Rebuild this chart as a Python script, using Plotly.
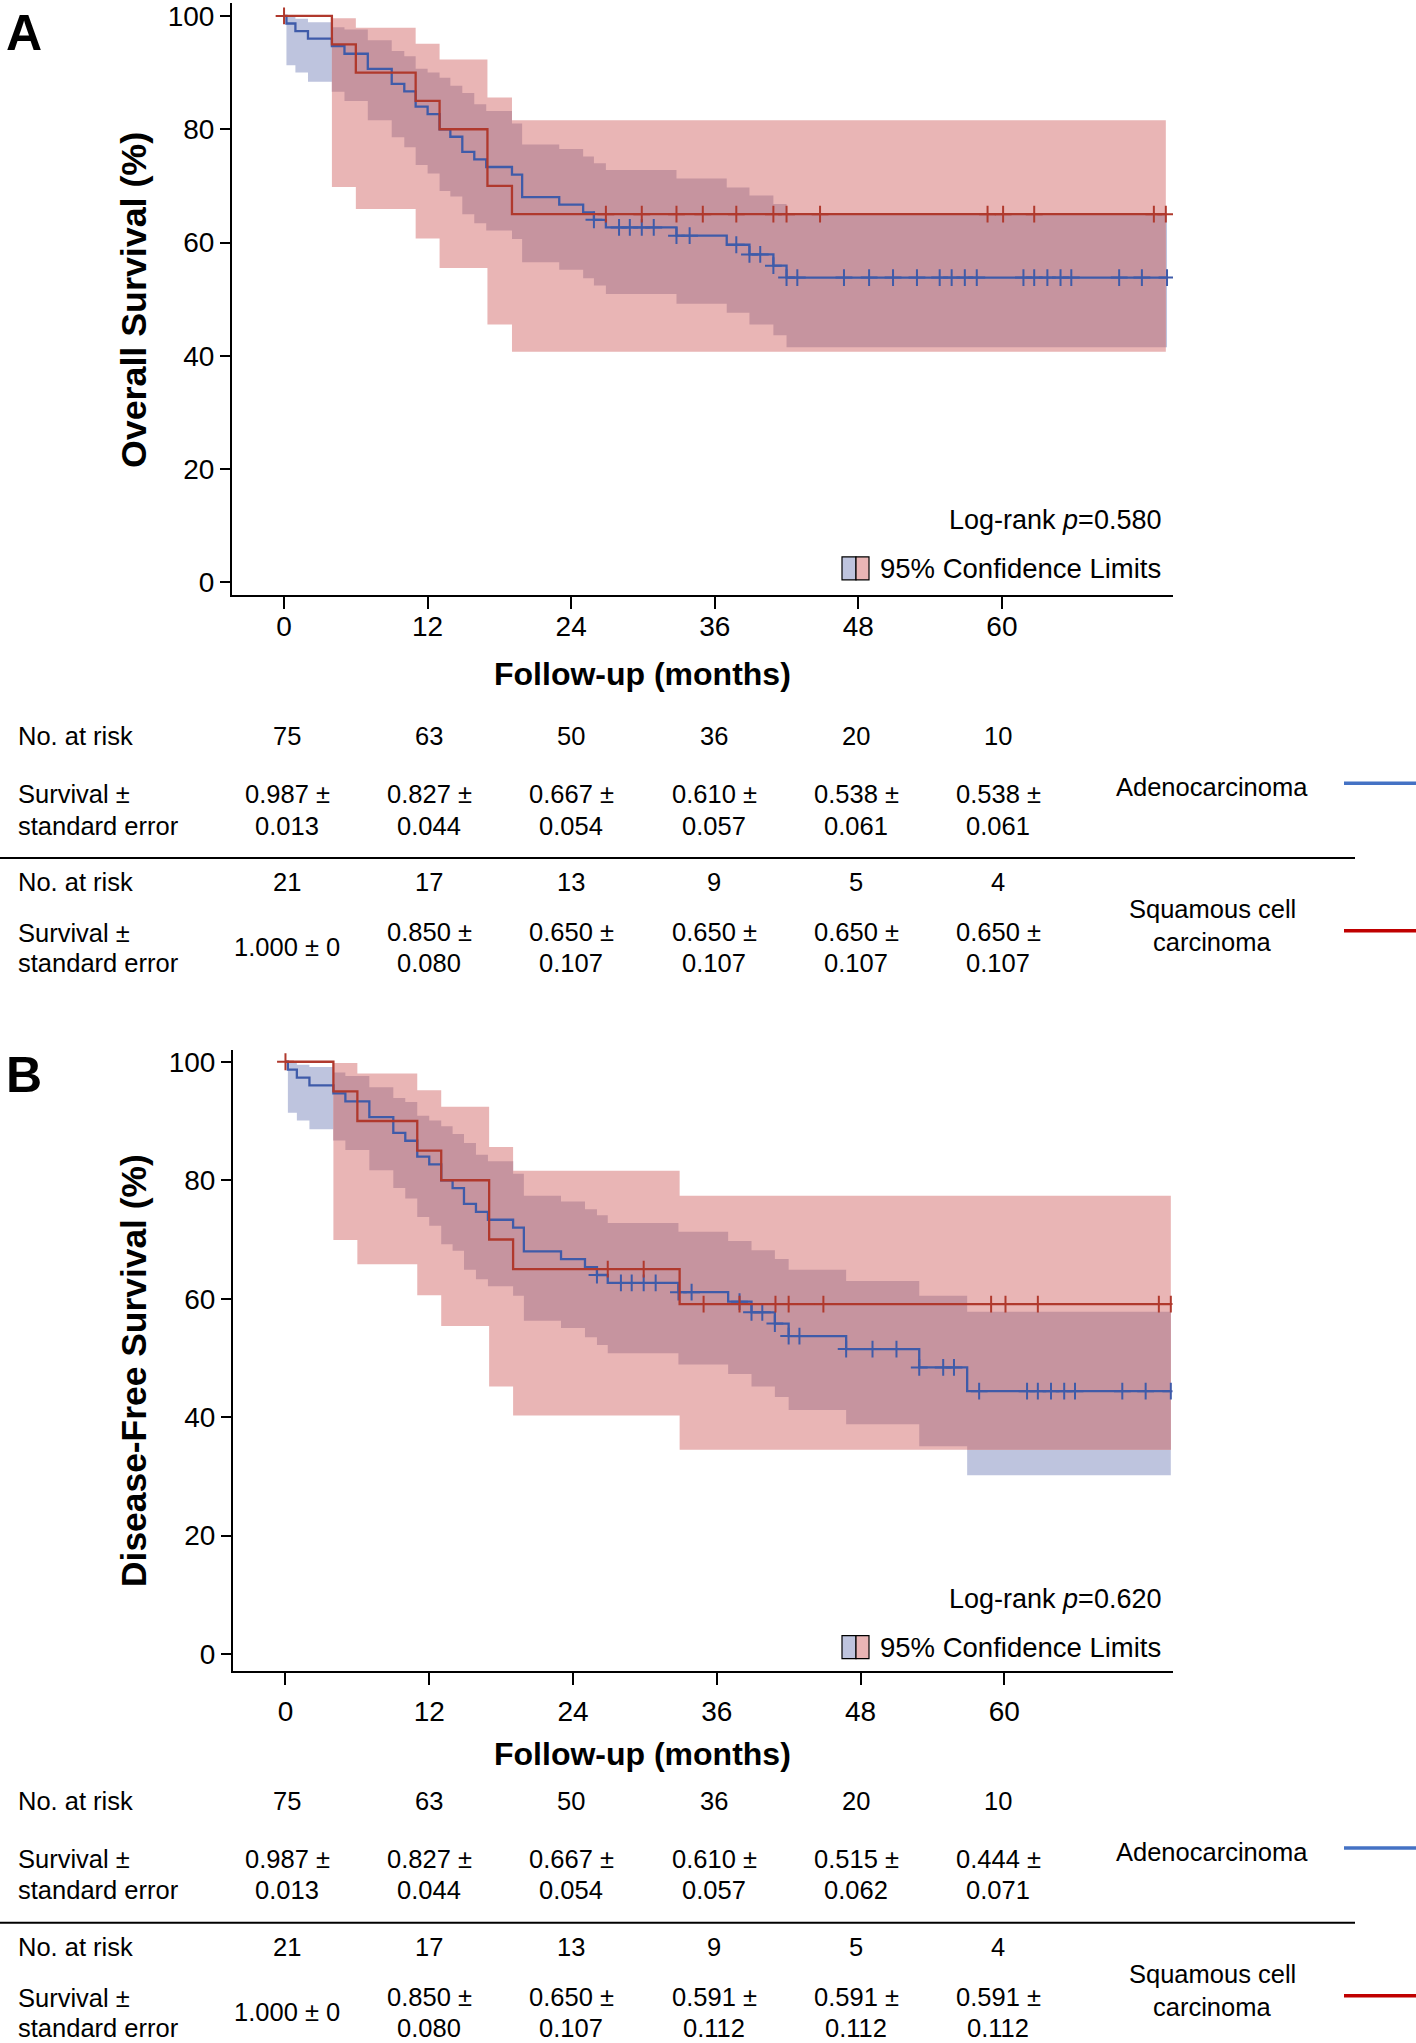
import plotly.graph_objects as go

W, H = 1416, 2043
FONT = "Liberation Sans, Arial, sans-serif"

# ---------------- DATA ----------------
# Panel A: Overall survival (months, %)
ado_os_t = [0, 0.2, 0.95, 2.0, 4.0, 5.05, 7.0, 9.0, 10.05, 11.0, 12.0, 13.0, 13.9, 14.9, 15.9,
            16.9, 19.05, 19.9, 23.0, 25.0, 25.9, 26.9, 32.8, 37.0, 38.9, 40.9, 42.0]
ado_os_s = [100, 98.67, 97.33, 96.0, 94.67, 93.33, 90.67, 88.0, 86.67, 84.0, 82.67, 80.0, 78.67,
            76.0, 74.67, 73.33, 72.0, 68.0, 66.67, 65.33, 64.0, 62.67, 61.2, 59.6, 57.9, 55.9, 53.8]
ado_os_lo = [100, 91.3, 90.0, 88.4, 86.6, 85.0, 81.6, 78.6, 76.8, 73.7, 72.2, 69.1, 68.1, 65.0,
             63.4, 62.1, 60.6, 56.5, 55.2, 53.7, 52.4, 50.9, 49.2, 47.6, 45.5, 43.6, 41.5]
ado_os_hi = [100, 99.9, 99.5, 98.9, 98.0, 97.6, 95.7, 93.8, 92.9, 90.7, 90.0, 89.1, 87.7, 86.4,
             84.4, 83.2, 81.0, 77.3, 76.5, 75.2, 74.0, 72.8, 71.3, 69.7, 68.3, 66.8, 65.2]
ado_os_end = 73.8
ado_os_cens = [25.9, 28.0, 28.9, 29.9, 30.9, 32.8, 33.9, 37.8, 38.9, 39.8, 40.9, 42.0, 42.9, 46.8,
               48.9, 50.9, 52.9, 54.8, 55.8, 56.9, 57.9, 61.8, 62.7, 63.8, 64.9, 65.8, 69.8, 71.7, 73.8]

sq_os_t = [0, 4.0, 6.0, 11.0, 13.0, 17.0, 19.05]
sq_os_s = [100, 95, 90, 85, 80, 70, 65]
sq_os_lo = [100, 69.8, 65.9, 60.7, 55.5, 45.5, 40.7]
sq_os_hi = [100, 99.6, 97.9, 95.1, 92.3, 85.6, 81.6]
sq_os_end = 73.7
sq_os_cens = [0, 26.9, 29.9, 32.8, 35.0, 37.8, 40.9, 42.0, 44.8, 58.8, 60.1, 62.7, 72.7, 73.7]

# Panel B: Disease-free survival
ado_dfs_t = [0, 0.2, 0.95, 2.0, 4.0, 5.0, 7.0, 9.0, 10.0, 11.0, 12.0, 13.0, 13.95, 14.9, 15.9,
             16.9, 19.0, 19.9, 23.0, 25.0, 26.0, 26.9, 32.8, 36.95, 38.9, 40.85, 42.0, 46.8, 52.9, 56.9]
ado_dfs_s = [100, 98.67, 97.33, 96.0, 94.67, 93.33, 90.67, 88.0, 86.67, 84.0, 82.67, 80.0, 78.67,
             76.0, 74.67, 73.33, 72.0, 68.0, 66.67, 65.33, 64.0, 62.67, 61.1, 59.5, 57.7, 55.8,
             53.7, 51.5, 48.4, 44.4]
ado_dfs_lo = [100, 91.4, 90.1, 88.6, 86.7, 85.1, 81.7, 78.7, 76.9, 73.8, 72.3, 69.2, 68.1, 64.9,
              63.3, 62.1, 60.5, 56.3, 55.05, 53.5, 52.2, 50.8, 48.9, 47.3, 45.2, 43.4, 41.2, 38.8,
              35.1, 30.2]
ado_dfs_hi = [100, 99.8, 99.5, 99.1, 98.2, 97.6, 95.7, 93.9, 93.2, 90.9, 90.1, 89.1, 87.8, 86.3,
              84.3, 83.2, 81.1, 77.4, 76.4, 75.1, 74.1, 72.8, 71.3, 69.75, 68.2, 66.7, 64.9, 63.0,
              60.5, 57.8]
ado_dfs_end = 73.9
ado_dfs_cens = [26.0, 28.0, 28.9, 29.9, 30.9, 32.8, 33.9, 37.9, 38.9, 39.8, 40.85, 42.0, 42.9, 46.8,
                49.0, 51.0, 52.9, 54.9, 55.8, 57.9, 61.9, 62.8, 63.9, 65.0, 65.9, 69.85, 71.8, 73.9]

sq_dfs_t = [0, 4.0, 6.0, 11.0, 13.0, 17.0, 19.0, 32.9]
sq_dfs_s = [100, 95, 90, 85, 80, 70, 65, 59.1]
sq_dfs_lo = [100, 69.9, 65.8, 60.6, 55.4, 45.2, 40.3, 34.5]
sq_dfs_hi = [100, 99.8, 98.0, 95.2, 92.4, 85.6, 81.6, 77.4]
sq_dfs_end = 73.9
sq_dfs_cens = [0, 26.9, 29.9, 34.9, 37.9, 40.9, 42.0, 44.9, 58.9, 60.1, 62.8, 72.9, 73.9]

x_ticks = [0, 12, 24, 36, 48, 60]
y_ticks = [0, 20, 40, 60, 80, 100]

# Risk tables
ado_risk_os = ["75", "63", "50", "36", "20", "10"]
ado_surv_os = ["0.987", "0.827", "0.667", "0.610", "0.538", "0.538"]
ado_se_os = ["0.013", "0.044", "0.054", "0.057", "0.061", "0.061"]
sq_risk_os = ["21", "17", "13", "9", "5", "4"]
sq_surv_os = ["1.000", "0.850", "0.650", "0.650", "0.650", "0.650"]
sq_se_os = ["0", "0.080", "0.107", "0.107", "0.107", "0.107"]

ado_risk_dfs = ["75", "63", "50", "36", "20", "10"]
ado_surv_dfs = ["0.987", "0.827", "0.667", "0.610", "0.515", "0.444"]
ado_se_dfs = ["0.013", "0.044", "0.054", "0.057", "0.062", "0.071"]
sq_risk_dfs = ["21", "17", "13", "9", "5", "4"]
sq_surv_dfs = ["1.000", "0.850", "0.650", "0.591", "0.591", "0.591"]
sq_se_dfs = ["0", "0.080", "0.107", "0.112", "0.112", "0.112"]

# ---------------- STYLE ----------------
BLUE_LINE = "#3F5BA9"
RED_LINE = "#B0392D"
BLUE_BAND = "#BEC4DE"
RED_BAND = "#E9B5B5"
OVER_BAND = "#C6949F"
LEG_BLUE = "#4472C4"
LEG_RED = "#C00000"
TXT = 25.5


def px(x):
    return x / W


def py(y):
    return 1 - y / H


def step_at(t, v, x):
    idx = 0
    for i, ti in enumerate(t):
        if ti <= x + 1e-9:
            idx = i
    return v[idx]


def band_poly(t, lo, hi, end):
    edges = list(t) + [end]
    xs, ys = [], []
    for i in range(len(t)):
        xs += [edges[i], edges[i + 1]]
        ys += [hi[i], hi[i]]
    for i in reversed(range(len(t))):
        xs += [edges[i + 1], edges[i]]
        ys += [lo[i], lo[i]]
    xs.append(xs[0])
    ys.append(ys[0])
    return xs, ys


def overlap(t1, lo1, hi1, end1, t2, lo2, hi2, end2):
    end = min(end1, end2)
    ts = sorted(set([x for x in t1 + t2 if x < end]))
    lo, hi = [], []
    for x in ts:
        l = max(step_at(t1, lo1, x), step_at(t2, lo2, x))
        h = min(step_at(t1, hi1, x), step_at(t2, hi2, x))
        if l > h:
            l = h
        lo.append(l)
        hi.append(h)
    return ts, lo, hi, end


fig = go.Figure()


def add_panel(xa, ya, adt, ads, adlo, adhi, adend, adc, sqt, sqs, sqlo, sqhi, sqend, sqc):
    for (t, lo, hi, end, col) in [(adt, adlo, adhi, adend, BLUE_BAND),
                                  (sqt, sqlo, sqhi, sqend, RED_BAND)]:
        bx, by = band_poly(t, lo, hi, end)
        fig.add_trace(go.Scatter(x=bx, y=by, xaxis=xa, yaxis=ya, mode="lines", fill="toself",
                                 fillcolor=col, line=dict(width=0, color=col),
                                 hoverinfo="skip", showlegend=False))
    ot, olo, ohi, oend = overlap(adt, adlo, adhi, adend, sqt, sqlo, sqhi, sqend)
    bx, by = band_poly(ot, olo, ohi, oend)
    fig.add_trace(go.Scatter(x=bx, y=by, xaxis=xa, yaxis=ya, mode="lines", fill="toself",
                             fillcolor=OVER_BAND, line=dict(width=0, color=OVER_BAND),
                             hoverinfo="skip", showlegend=False))
    for (t, s, end, cens, col) in [(adt, ads, adend, adc, BLUE_LINE),
                                   (sqt, sqs, sqend, sqc, RED_LINE)]:
        fig.add_trace(go.Scatter(x=list(t) + [end], y=list(s) + [s[-1]], xaxis=xa, yaxis=ya,
                                 mode="lines", line=dict(color=col, width=2.3, shape="hv"),
                                 showlegend=False))
        fig.add_trace(go.Scatter(x=cens, y=[step_at(t, s, c) for c in cens], xaxis=xa, yaxis=ya,
                                 mode="markers",
                                 marker=dict(symbol="cross-thin", size=12,
                                             line=dict(color=col, width=2)),
                                 showlegend=False))


add_panel("x", "y", ado_os_t, ado_os_s, ado_os_lo, ado_os_hi, ado_os_end, ado_os_cens,
          sq_os_t, sq_os_s, sq_os_lo, sq_os_hi, sq_os_end, sq_os_cens)
add_panel("x2", "y2", ado_dfs_t, ado_dfs_s, ado_dfs_lo, ado_dfs_hi, ado_dfs_end, ado_dfs_cens,
          sq_dfs_t, sq_dfs_s, sq_dfs_lo, sq_dfs_hi, sq_dfs_end, sq_dfs_cens)

axis_common = dict(showline=True, linecolor="black", linewidth=2, showgrid=False,
                   zeroline=False, ticks="outside", tickcolor="black", tickwidth=1.5,
                   ticklabeloverflow="allow",
                   tickfont=dict(family=FONT, size=28, color="black"))

fig.update_layout(
    xaxis=dict(domain=[px(232), px(1173)], range=[-4.35, 74.3], tickvals=x_ticks, ticklen=12,
               ticklabelstandoff=-7, anchor="y", **axis_common),
    yaxis=dict(domain=[py(594), 1.0], range=[-2.29, 102.29],
               tickvals=y_ticks, ticklen=10, anchor="x", **axis_common),
    xaxis2=dict(domain=[px(233), px(1172.5)], range=[-4.38, 74.04], tickvals=x_ticks, ticklen=12,
                ticklabelstandoff=2, anchor="y2", **axis_common),
    yaxis2=dict(domain=[py(1673), py(1050)], range=[-2.86, 102.0], tickvals=y_ticks, ticklen=10,
                anchor="x2", **axis_common),
)

annotations = []
shapes = []


def ann(text, x, y, size, xanchor="center", bold=False, angle=0):
    if bold:
        text = "<b>" + text + "</b>"
    annotations.append(dict(text=text, x=px(x), y=py(y), xref="paper", yref="paper",
                            xanchor=xanchor, yanchor="middle", showarrow=False, textangle=angle,
                            font=dict(family=FONT, size=size, color="black")))


def rect(x0, y0, x1, y1, fill, lw=1.2):
    shapes.append(dict(type="rect", xref="paper", yref="paper", x0=px(x0), x1=px(x1),
                       y0=py(y1), y1=py(y0), fillcolor=fill,
                       line=dict(color="black", width=lw)))


def hline(x0, x1, y, color, width):
    shapes.append(dict(type="line", xref="paper", yref="paper", x0=px(x0), x1=px(x1),
                       y0=py(y), y1=py(y), line=dict(color=color, width=width)))


col_x = [287, 429, 571, 714, 856, 998]


def panel_text(letter, ly, ytitle, ytitle_y, ysize, xtitle_y, pval, pval_y, leg_y):
    ann(letter, 24, ly, 50, bold=True)
    ann(ytitle, 134, ytitle_y, ysize, bold=True, angle=-90)
    ann("Follow-up (months)", 642, xtitle_y, 32, bold=True)
    ann("Log-rank <i>p</i>=" + pval, 1163, pval_y, 27, xanchor="right")
    ann("95% Confidence Limits", 1163, leg_y, 27.5, xanchor="right")
    rect(842, leg_y - 11.5, 856, leg_y + 11.5, BLUE_BAND)
    rect(856, leg_y - 11.5, 869, leg_y + 11.5, RED_BAND)


def table(y0, ar, asv, ase, sr, ssv, sse):
    ann("No. at risk", 16, y0, TXT, xanchor="left")
    ann("Survival ±", 16, y0 + 58, TXT, xanchor="left")
    ann("standard error", 16, y0 + 90, TXT, xanchor="left")
    for i, x in enumerate(col_x):
        ann(ar[i], x, y0, TXT)
        ann(asv[i] + " ±", x, y0 + 58, TXT)
        ann(ase[i], x, y0 + 90, TXT)
    ann("Adenocarcinoma", 1212, y0 + 51, TXT)
    hline(1344, 1416, y0 + 47.5, LEG_BLUE, 3.5)
    hline(0, 1355, y0 + 122.5, "black", 2)
    ann("No. at risk", 16, y0 + 147, TXT, xanchor="left")
    ann("Survival ±", 16, y0 + 198, TXT, xanchor="left")
    ann("standard error", 16, y0 + 228, TXT, xanchor="left")
    for i, x in enumerate(col_x):
        ann(sr[i], x, y0 + 147, TXT)
        if sse[i] == "0":
            ann(ssv[i] + " ± 0", x, y0 + 212, TXT)
        else:
            ann(ssv[i] + " ±", x, y0 + 197, TXT)
            ann(sse[i], x, y0 + 228, TXT)
    ann("Squamous cell", 1212, y0 + 174, TXT)
    ann("carcinoma", 1212, y0 + 206.5, TXT)
    hline(1344, 1416, y0 + 195.5, LEG_RED, 3.5)


panel_text("A", 30, "Overall Survival (%)", 298, 35.8, 673, "0.580", 519, 567)
panel_text("B", 1075, "Disease-Free Survival (%)", 1372, 35.4, 1756, "0.620", 1601, 1649)
table(735, ado_risk_os, ado_surv_os, ado_se_os, sq_risk_os, sq_surv_os, sq_se_os)
table(1803, ado_risk_dfs, ado_surv_dfs, ado_se_dfs, sq_risk_dfs, sq_surv_dfs, sq_se_dfs)

fig.update_layout(width=W, height=H, margin=dict(l=0, r=0, t=0, b=0),
                  paper_bgcolor="white", plot_bgcolor="white", showlegend=False,
                  annotations=annotations, shapes=shapes,
                  font=dict(family=FONT, color="black"))

fig.write_html("out.html",
               config={"displayModeBar": False},
               post_script="document.body.style.margin='0px';"
                           "document.body.style.padding='0px';"
                           "document.body.style.overflow='hidden';")
